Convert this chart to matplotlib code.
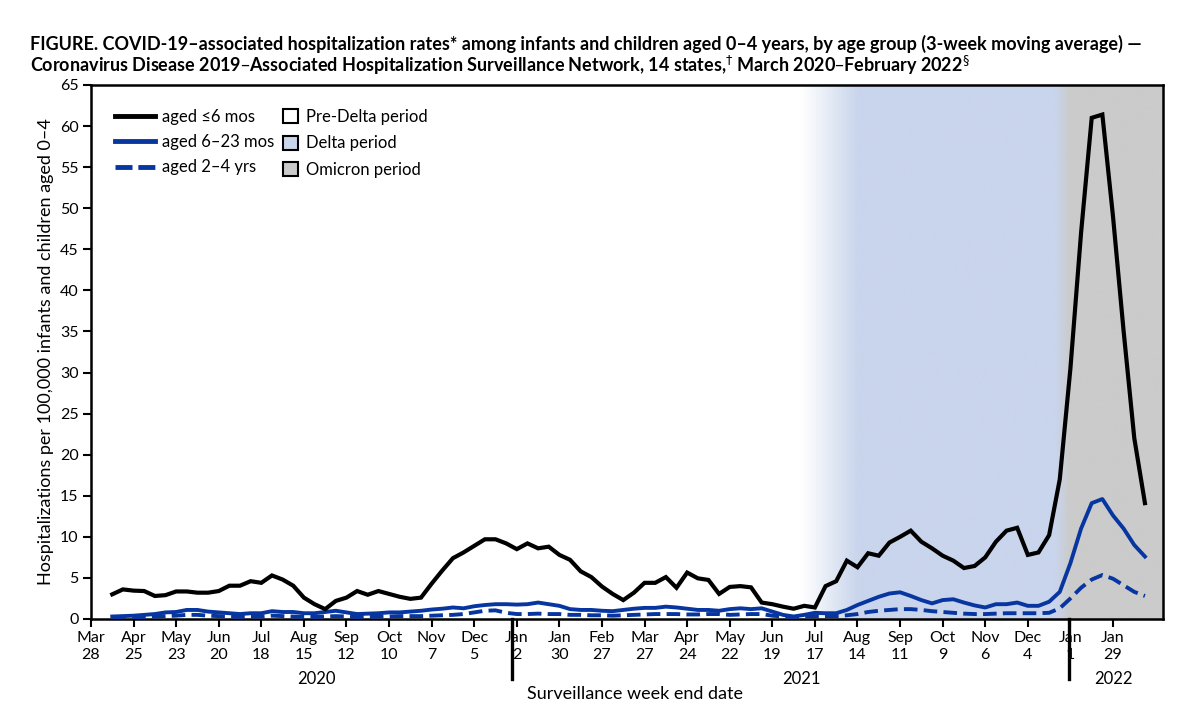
import numpy as np
import pandas as pd
import matplotlib
matplotlib.use("Agg")
import matplotlib.pyplot as plt
import matplotlib.dates as mdates
import matplotlib.transforms as mtransforms
from matplotlib.lines import Line2D
from matplotlib.patches import Patch
from matplotlib.colors import to_rgb

plt.rcParams['font.family'] = ['Lato', 'DejaVu Sans']

# Datos (promedio movil de 3 semanas)
weeks = pd.date_range('2020-04-11', periods=98, freq='7D')

rate_0_6m = [3.0, 3.6, 3.45, 3.4, 2.8, 2.9, 3.35, 3.35, 3.2, 3.2,
             3.4, 4.05, 4.05, 4.6, 4.4, 5.3, 4.8, 4.05, 2.6, 1.8,
             1.2, 2.2, 2.6, 3.4, 2.95, 3.4, 3.05, 2.7, 2.45, 2.6,
             4.3, 5.9, 7.4, 8.1, 8.9, 9.7, 9.7, 9.2, 8.5, 9.2,
             8.6, 8.8, 7.8, 7.2, 5.8, 5.1, 3.95, 3.05, 2.3, 3.2,
             4.4, 4.4, 5.1, 3.8, 5.65, 4.95, 4.75, 3.05, 3.9, 4.0,
             3.85, 2.0, 1.8, 1.5, 1.25, 1.6, 1.4, 4.0, 4.6, 7.1,
             6.3, 8.0, 7.7, 9.3, 10.0, 10.75, 9.4, 8.6, 7.7, 7.1,
             6.2, 6.45, 7.5, 9.4, 10.75, 11.1, 7.8, 8.1, 10.2, 17.0,
             30.5, 47.0, 61.0, 61.4, 49.0, 35.0, 22.0, 14.1]

rate_6_23m = [0.3, 0.35, 0.4, 0.5, 0.6, 0.8, 0.85, 1.1, 1.1, 0.9,
              0.8, 0.7, 0.6, 0.7, 0.7, 0.95, 0.85, 0.85, 0.7, 0.7,
              0.85, 1.0, 0.8, 0.6, 0.65, 0.7, 0.8, 0.8, 0.9, 1.0,
              1.15, 1.25, 1.4, 1.3, 1.55, 1.7, 1.8, 1.8, 1.75, 1.8,
              2.0, 1.8, 1.6, 1.2, 1.1, 1.1, 1.0, 0.95, 1.1, 1.25,
              1.35, 1.35, 1.5, 1.4, 1.25, 1.1, 1.1, 1.0, 1.2, 1.3,
              1.2, 1.3, 0.9, 0.5, 0.3, 0.5, 0.75, 0.7, 0.7, 1.1,
              1.7, 2.2, 2.7, 3.1, 3.25, 2.8, 2.3, 1.9, 2.3, 2.4,
              2.0, 1.65, 1.4, 1.8, 1.8, 2.0, 1.6, 1.6, 2.1, 3.3,
              6.8, 11.0, 14.1, 14.6, 12.6, 11.0, 9.0, 7.6]

rate_2_4y = [0.15, 0.15, 0.2, 0.25, 0.3, 0.35, 0.4, 0.5, 0.5, 0.4,
             0.35, 0.3, 0.25, 0.3, 0.3, 0.4, 0.35, 0.3, 0.25, 0.25,
             0.3, 0.35, 0.3, 0.25, 0.25, 0.3, 0.3, 0.35, 0.35, 0.35,
             0.4, 0.45, 0.5, 0.6, 0.8, 1.0, 1.05, 0.75, 0.6, 0.6,
             0.65, 0.6, 0.6, 0.5, 0.5, 0.45, 0.45, 0.4, 0.45, 0.5,
             0.55, 0.6, 0.6, 0.6, 0.55, 0.55, 0.6, 0.6, 0.5, 0.55,
             0.6, 0.6, 0.4, 0.3, 0.25, 0.3, 0.35, 0.35, 0.35, 0.45,
             0.6, 0.85, 1.0, 1.1, 1.2, 1.2, 1.1, 0.95, 0.85, 0.75,
             0.65, 0.6, 0.6, 0.65, 0.7, 0.7, 0.7, 0.7, 0.75, 1.3,
             2.5, 3.8, 4.8, 5.35, 4.9, 4.1, 3.3, 2.8]

tick_dates = pd.date_range('2020-03-28', '2022-01-29', freq='28D')
tick_labels = [f"{d:%b}\n{d.day}" for d in tick_dates]

# Periodos (inicio del degradado y color pleno)
delta_start, delta_full = pd.Timestamp('2021-07-08'), pd.Timestamp('2021-08-14')
omicron_start, omicron_full = pd.Timestamp('2021-12-22'), pd.Timestamp('2021-12-31')
year_breaks = [pd.Timestamp('2020-12-30'), pd.Timestamp('2021-12-31')]
year_labels = ['2020', '2021', '2022']
year_label_pos = [pd.Timestamp('2020-08-23'), pd.Timestamp('2021-07-08'), pd.Timestamp('2022-01-29')]

c_black = 'black'
c_blue = '#0836a0'
c_delta = '#c9d5ec'
c_omicron = '#cbcbcb'

fig = plt.figure(figsize=(12, 7.1), dpi=100)
ax = fig.add_axes([0.0758, 0.1282, 0.8934, 0.7521])

x0 = mdates.date2num(pd.Timestamp('2020-03-28'))
x1 = x0 + 7 * 100.7

# Fondo con degradado entre periodos
xs = np.linspace(x0, x1, 2000)
w = np.array(to_rgb('white'))
b = np.array(to_rgb(c_delta))
g = np.array(to_rgb(c_omicron))
ds, df = mdates.date2num(delta_start), mdates.date2num(delta_full)
os_, of = mdates.date2num(omicron_start), mdates.date2num(omicron_full)
t1 = np.clip((xs - ds) / (df - ds), 0, 1)[:, None]
t2 = np.clip((xs - os_) / (of - os_), 0, 1)[:, None]
cols = w * (1 - t1) + b * t1
cols = cols * (1 - t2) + g * t2
ax.imshow(cols[None, :, :], extent=[x0, x1, 0, 65], aspect='auto', zorder=0,
          interpolation='bilinear')

ax.plot(weeks, rate_0_6m, color=c_black, lw=3.0, zorder=5, solid_joinstyle='miter')
ax.plot(weeks, rate_6_23m, color=c_blue, lw=2.8, zorder=4)
ax.plot(weeks, rate_2_4y, color=c_blue, lw=2.8, dashes=(3.5, 1.6), zorder=3)

ax.set_xlim(x0, x1)
ax.set_ylim(0, 65)
ax.set_yticks(np.arange(0, 66, 5))
ax.set_xticks(mdates.date2num(tick_dates))
ax.set_xticklabels(tick_labels, fontsize=11.5, linespacing=1.25)
ax.tick_params(axis='y', labelsize=11.5, length=6, width=1.5, pad=3)
ax.tick_params(axis='x', length=6, width=1.5, pad=3)
for s in ax.spines.values():
    s.set_linewidth(1.8)

trans = mtransforms.blended_transform_factory(ax.transData, ax.transAxes)
for yb in year_breaks:
    ax.plot([yb, yb], [0, -0.112], transform=trans, color='black', lw=2.4, clip_on=False)
for lab, pos in zip(year_labels, year_label_pos):
    ax.text(pos, -0.112, lab, transform=trans, ha='center', va='center', fontsize=12)

ax.text(0.5075, -0.140, 'Surveillance week end date', transform=ax.transAxes,
        ha='center', va='center', fontsize=13)
ax.set_ylabel('Hospitalizations per 100,000 infants and children aged 0–4',
              fontsize=13, labelpad=4)

# Leyendas
line_handles = [Line2D([], [], color=c_black, lw=3.5),
                Line2D([], [], color=c_blue, lw=3.5),
                Line2D([], [], color=c_blue, lw=3.5, dashes=(3.5, 1.2))]
leg1 = ax.legend(line_handles, ['aged ≤6 mos', 'aged 6–23 mos', 'aged 2–4 yrs'],
                 loc='upper left', bbox_to_anchor=(0.022, 0.955), frameon=False,
                 fontsize=12, handlelength=2.4, handletextpad=0.45,
                 labelspacing=0.55, borderpad=0, borderaxespad=0)
ax.add_artist(leg1)
patch_handles = [Patch(facecolor='white', edgecolor='black', lw=1.5),
                 Patch(facecolor=c_delta, edgecolor='black', lw=1.5),
                 Patch(facecolor=c_omicron, edgecolor='black', lw=1.5)]
ax.legend(patch_handles, ['Pre-Delta period', 'Delta period', 'Omicron period'],
          loc='upper left', bbox_to_anchor=(0.179, 0.955), frameon=False,
          fontsize=12, handlelength=0.9, handleheight=0.9, handletextpad=0.5,
          labelspacing=0.62, borderpad=0, borderaxespad=0)

fig.text(0.025, 0.9296,
         'FIGURE. COVID-19–associated hospitalization rates* among infants and children '
         'aged 0–4 years, by age group (3-week moving average) —',
         fontsize=13, weight='bold', va='baseline')
fig.text(0.025, 0.8986,
         'Coronavirus Disease 2019–Associated Hospitalization Surveillance Network, '
         '14 states,$^{\\dagger}$ March 2020–February 2022$^{\\S}$',
         fontsize=13, weight='bold', va='baseline')

fig.savefig('out.png', dpi=100)
